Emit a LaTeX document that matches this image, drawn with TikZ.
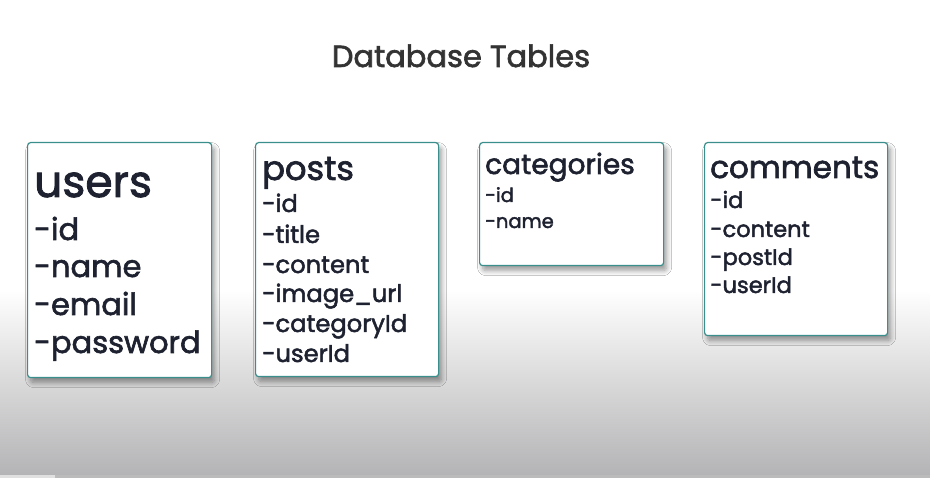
\documentclass[tikz,border=0pt]{standalone}
\usepackage{fontspec}
\setmainfont{Poppins}[FakeBold=2]
\usetikzlibrary{shadows.blur}
\definecolor{ink}{HTML}{1E2230}
\definecolor{titleink}{HTML}{333333}
\definecolor{teal}{HTML}{3A8E8B}
\definecolor{bggray}{HTML}{B4B3B5}
\tikzset{
  tbl/.style={draw=teal, line width=1.2pt, fill=white, rounded corners=3pt, anchor=north west, inner sep=0pt,
    blur shadow={shadow xshift=3pt, shadow yshift=-5pt, shadow blur steps=10, shadow blur radius=5pt, shadow opacity=40}},
  txt/.style={anchor=base west, inner sep=0pt, text=ink},
}
\begin{document}
\begin{tikzpicture}[x=1pt, y=-1pt]
\useasboundingbox (0,0) rectangle (930,478);
\fill[white] (0,0) rectangle (930,478);
\shade[top color=white, bottom color=bggray] (0,290) rectangle (930,475);
\fill[bggray!90!white] (0,475) rectangle (930,478);
\fill[white!88!black] (0,475) rectangle (55,478);

\node[anchor=base, inner sep=0pt, text=titleink, font=\fontsize{30.5}{33}\selectfont] (title) at (461,67) {Database Tables};

% tables
\node[tbl, minimum width=184pt, minimum height=235pt] (users) at (27,142) {};
\node[tbl, minimum width=183pt, minimum height=234pt] (posts) at (255,142) {};
\node[tbl, minimum width=184pt, minimum height=123pt] (categories) at (479,142) {};
\node[tbl, minimum width=183pt, minimum height=193pt] (comments) at (704,142) {};

\begin{scope}[every node/.append style={txt}]
% users
\node[font=\fontsize{44}{47}\selectfont] (uT) at (34,197) {users};
\node[font=\fontsize{30.5}{32}\selectfont] (u1) at (34,240) {-id};
\node[font=\fontsize{30.5}{32}\selectfont] (u2) at (34,277) {-name};
\node[font=\fontsize{30.5}{32}\selectfont] (u3) at (34,315) {-email};
\node[font=\fontsize{30.5}{32}\selectfont] (u4) at (34,353) {-password};
% posts
\node[font=\fontsize{33.7}{36}\selectfont] (pT) at (262,180) {posts};
\node[font=\fontsize{24.2}{26}\selectfont] (p1) at (262,212) {-id};
\node[font=\fontsize{24.2}{26}\selectfont] (p2) at (262,243) {-title};
\node[font=\fontsize{24.2}{26}\selectfont] (p3) at (262,273) {-content};
\node[font=\fontsize{24.2}{26}\selectfont] (p4) at (262,302) {-image\_url};
\node[font=\fontsize{24.2}{26}\selectfont] (p5) at (262,332) {-categoryId};
\node[font=\fontsize{24.2}{26}\selectfont] (p6) at (262,362) {-userId};
% categories
\node[font=\fontsize{28}{30}\selectfont] (cT) at (485,174) {categories};
\node[font=\fontsize{19.5}{21}\selectfont] (c1) at (485,202) {-id};
\node[font=\fontsize{19.5}{21}\selectfont] (c2) at (485,228) {-name};
% comments
\node[font=\fontsize{31}{33}\selectfont] (mT) at (710,178) {comments};
\node[font=\fontsize{22.5}{24}\selectfont] (m1) at (710,208) {-id};
\node[font=\fontsize{22.5}{24}\selectfont] (m2) at (710,237) {-content};
\node[font=\fontsize{22.5}{24}\selectfont] (m3) at (710,265) {-postId};
\node[font=\fontsize{22.5}{24}\selectfont] (m4) at (710,293) {-userId};
\end{scope}
\end{tikzpicture}
\end{document}
